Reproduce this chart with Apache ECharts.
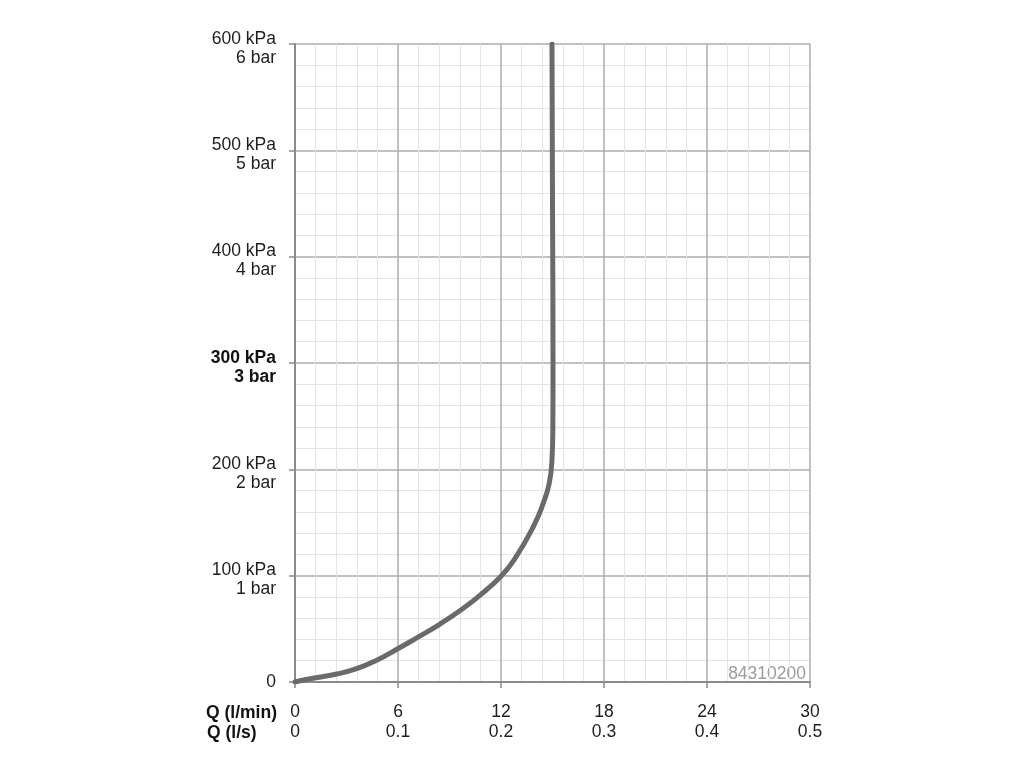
<!DOCTYPE html>
<html>
<head>
<meta charset="utf-8">
<script src="https://cdn.jsdelivr.net/npm/echarts@6/dist/echarts.min.js"></script>
<style>
html,body{margin:0;padding:0;background:#fff;}
#c{width:1024px;height:768px;}
</style>
</head>
<body>
<div id="c"></div>
<script>
// Data
const qLpm = [0, 0.87, 2.43, 3.59, 4.76, 5.96, 7.09, 8.45, 9.6, 10.77, 12.03, 12.81, 13.88, 14.46, 14.81, 14.97, 15.02, 15.03, 15.0, 14.97];
const pKpa = [0, 3, 7.5, 12.5, 20.5, 31, 41.5, 54.5, 67, 81.5, 100, 116, 146, 168, 187, 209, 240, 300, 450, 600];

const xTickLpm = ['0', '6', '12', '18', '24', '30'];
const xTickLs = ['0', '0.1', '0.2', '0.3', '0.4', '0.5'];
const yTickKpa = ['0', '100 kPa', '200 kPa', '300 kPa', '400 kPa', '500 kPa', '600 kPa'];
const yTickBar = ['', '1 bar', '2 bar', '3 bar', '4 bar', '5 bar', '6 bar'];
const boldIndex = 3;
const xAxisTitles = ['Q (l/min)', 'Q (l/s)'];
const watermark = '84310200';

const FONT = '"Liberation Sans", Arial, Helvetica, sans-serif';
const FS = 17.5;
const seriesData = qLpm.map((q, i) => [q, pKpa[i]]);

const chart = echarts.init(document.getElementById('c'), null, {renderer: 'canvas'});
chart.setOption({
  animation: false,
  backgroundColor: '#fff',
  grid: {left: 295, right: 214, top: 44, bottom: 86, containLabel: false},
  xAxis: {
    type: 'value', min: 0, max: 30, interval: 6,
    axisLine: {show: true, lineStyle: {color: '#8a8a8a', width: 2}},
    axisTick: {show: true, length: 6, lineStyle: {color: '#8a8a8a', width: 1.5}},
    minorTick: {show: false, splitNumber: 5},
    splitLine: {show: true, lineStyle: {color: '#acacac', width: 1.5}},
    minorSplitLine: {show: true, lineStyle: {color: '#e4e4e4', width: 1}},
    axisLabel: {
      margin: 20, fontSize: FS, fontFamily: FONT, color: '#1e1e1e', lineHeight: 20,
      formatter: function (v) { const i = Math.round(v / 6); return xTickLpm[i] + '\n' + xTickLs[i]; }
    }
  },
  yAxis: {
    type: 'value', min: 0, max: 600, interval: 100,
    axisLine: {show: true, lineStyle: {color: '#8a8a8a', width: 2}},
    axisTick: {show: true, length: 6, lineStyle: {color: '#8a8a8a', width: 1.5}},
    minorTick: {show: false, splitNumber: 5},
    splitLine: {show: true, lineStyle: {color: '#acacac', width: 1.5}},
    minorSplitLine: {show: true, lineStyle: {color: '#e4e4e4', width: 1}},
    axisLabel: {
      margin: 19, fontSize: FS, fontFamily: FONT, color: '#1e1e1e', align: 'right',
      formatter: function (v) {
        const i = Math.round(v / 100);
        if (i === 0) return '{z|' + yTickKpa[0] + '}';
        const s = i === boldIndex ? 'B' : 'n';
        return '{' + s + '1|' + yTickKpa[i] + '}\n{' + s + '2|' + yTickBar[i] + '}';
      },
      rich: {
        z: {fontSize: FS, fontFamily: FONT, color: '#1e1e1e', lineHeight: 20},
        n1: {fontSize: FS, fontFamily: FONT, color: '#1e1e1e', lineHeight: 28, verticalAlign: 'bottom'},
        n2: {fontSize: FS, fontFamily: FONT, color: '#1e1e1e', lineHeight: 20},
        B1: {fontSize: FS, fontFamily: FONT, color: '#111', fontWeight: 'bold', lineHeight: 28, verticalAlign: 'bottom'},
        B2: {fontSize: FS, fontFamily: FONT, color: '#111', fontWeight: 'bold', lineHeight: 20}
      }
    }
  },
  graphic: [
    {type: 'text', left: 206, top: 704, style: {text: xAxisTitles[0], font: 'bold ' + FS + 'px ' + FONT, fill: '#111'}},
    {type: 'text', left: 207, top: 724, style: {text: xAxisTitles[1], font: 'bold ' + FS + 'px ' + FONT, fill: '#111'}},
    {type: 'text', right: 218, top: 665, style: {text: watermark, font: FS + 'px ' + FONT, fill: '#9c9c9c'}}
  ],
  series: [{
    type: 'line',
    data: seriesData,
    smooth: 0.5,
    showSymbol: false,
    lineStyle: {color: '#6a6a6a', width: 5, cap: 'round'},
    z: 5
  }]
});
</script>
</body>
</html>
